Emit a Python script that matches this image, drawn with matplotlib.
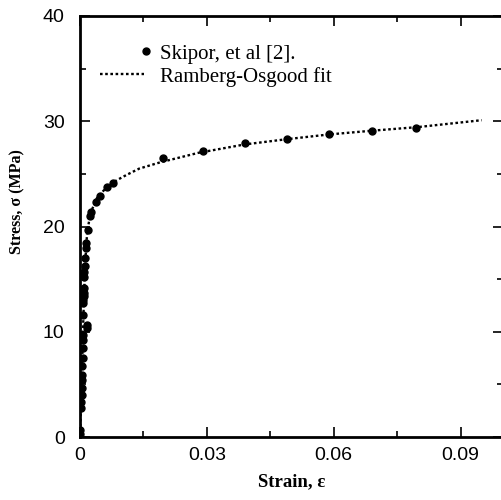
import matplotlib
matplotlib.use('Agg')
import matplotlib.pyplot as plt
from matplotlib.ticker import MultipleLocator
from matplotlib.legend_handler import HandlerLine2D

# measured points (Skipor et al.)
strain_pts = [0.0000, 0.0001, 0.0003, 0.0003, 0.0004, 0.0004, 0.0005, 0.0005,
              0.0005, 0.0006, 0.0006, 0.0006, 0.0007, 0.0016, 0.0017, 0.0007,
              0.0008, 0.0008, 0.0009, 0.0009, 0.0009, 0.0010, 0.0010, 0.0011,
              0.0011, 0.0013, 0.0014, 0.0019, 0.0024, 0.0026, 0.0038, 0.0047,
              0.0064, 0.0078, 0.0196, 0.0290, 0.0390, 0.0490, 0.0590, 0.0690,
              0.0795]
stress_pts = [0.3, 0.7, 2.8, 3.3, 4.0, 4.7, 5.4, 5.9,
              6.7, 7.5, 8.5, 9.2, 9.7, 10.4, 10.6, 11.6,
              12.7, 13.0, 13.4, 13.7, 14.2, 15.2, 15.7, 16.2,
              17.0, 18.0, 18.4, 19.7, 21.0, 21.4, 22.3, 22.9,
              23.8, 24.1, 26.5, 27.2, 27.9, 28.3, 28.8, 29.1,
              29.4]

# Ramberg-Osgood fit
strain_fit = [0.0, 0.0003, 0.0007, 0.0010, 0.0013, 0.0017, 0.0025, 0.0040,
              0.0060, 0.0087, 0.0110, 0.0140, 0.0190, 0.0280, 0.0390, 0.0490,
              0.0590, 0.0690, 0.0800, 0.0950]
stress_fit = [0.0, 4.0, 10.0, 14.0, 17.0, 19.5, 21.3, 22.7,
              23.6, 24.4, 24.9, 25.5, 26.1, 27.0, 27.8, 28.3,
              28.75, 29.1, 29.45, 30.1]


# legend key with the dot at the right end, like the original
# (with numpoints=1 the dot goes at the middle of xdata)
class RightDot(HandlerLine2D):
    def get_xdata(self, legend, xdescent, ydescent, width, height, fontsize):
        xd = [-xdescent + 0.95 * width, -xdescent + 1.15 * width]
        return xd, xd


plt.rcParams['font.family'] = ['Liberation Serif', 'DejaVu Serif']

fig = plt.figure(figsize=(5.01, 5.0), dpi=100)
ax = fig.add_axes([0.1597, 0.126, 0.844, 0.842])

pts, = ax.plot(strain_pts, stress_pts, 'o', color='black', markersize=5,
               label='Skipor, et al [2].')
ax.plot(strain_fit, stress_fit, color='black', linewidth=1.7,
        linestyle=(0, (1.1, 1.1)), label='Ramberg-Osgood fit')

ax.set_xlim(0, 0.1)
ax.set_ylim(0, 40)
ax.xaxis.set_major_locator(MultipleLocator(0.03))
ax.xaxis.set_minor_locator(MultipleLocator(0.015))
ax.yaxis.set_major_locator(MultipleLocator(10))
ax.yaxis.set_minor_locator(MultipleLocator(5))
ax.set_xticks([0, 0.03, 0.06, 0.09])
ax.set_xticklabels(['0', '0.03', '0.06', '0.09'])

ax.tick_params(which='both', direction='in', top=True, right=True, width=1.2)
ax.tick_params(which='major', length=7)
ax.tick_params(which='minor', length=4)
ax.tick_params(axis='x', pad=7)
ax.tick_params(axis='y', pad=11)
for lbl in ax.get_xticklabels() + ax.get_yticklabels():
    lbl.set_family(['Liberation Sans', 'DejaVu Sans'])
    lbl.set_fontsize(14)
for s in ax.spines.values():
    s.set_linewidth(2)

ax.set_xlabel('Strain, ε', fontsize=13.5, fontweight='bold')
ax.set_ylabel('Stress, σ (MPa)', fontsize=11.5, fontweight='bold')
ax.xaxis.set_label_coords(0.5, -0.085)
ax.yaxis.set_label_coords(-0.13, 0.56)

ax.legend(loc='upper left', bbox_to_anchor=(0.023, 0.958), frameon=False,
          fontsize=15, handlelength=2.1, handletextpad=0.75,
          labelspacing=0.15, borderpad=0, numpoints=1,
          handler_map={pts: RightDot()})

fig.savefig('out.png', dpi=100)
